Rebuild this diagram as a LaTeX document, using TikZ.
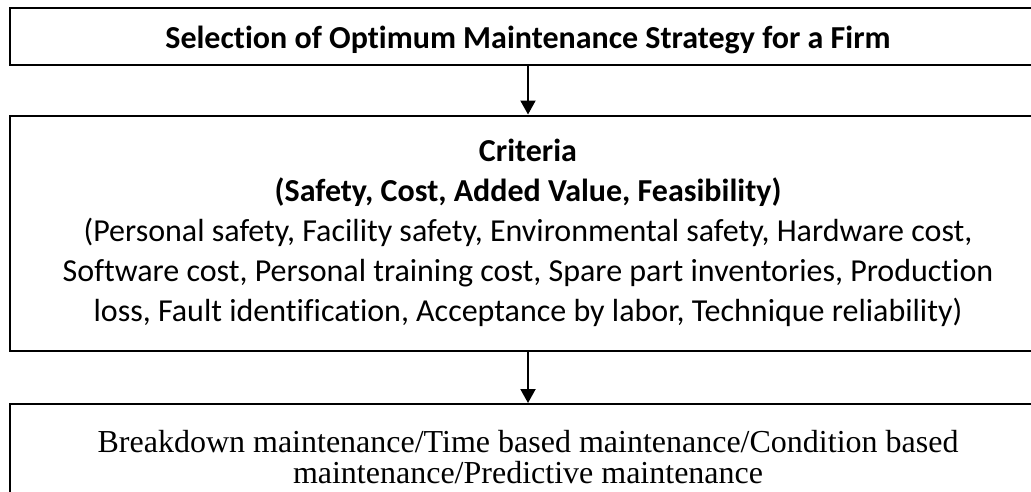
\documentclass[tikz,border=0pt]{standalone}
\usepackage{fontspec}
\setmainfont{Liberation Serif}
\newfontfamily\calibri[Ligatures=NoCommon]{Carlito}
\usetikzlibrary{arrows.meta}

\begin{document}
\begin{tikzpicture}[x=1pt,y=1pt,
    box/.style={draw=black,line width=2pt,minimum width=1036pt,inner sep=0pt,
                align=center,anchor=north west},
    sans/.style={font={\calibri\fontsize{32}{40}\selectfont}},
    arr/.style={-{Triangle[length=14pt,width=15pt]},line width=2pt}
  ]
    \useasboundingbox (0,0) rectangle (1031,-491);
    \clip (0,0) rectangle (1031,-491);
    \node[box,sans,text height=40.5pt,text depth=17pt] (goal) at (9,-6.5)
      {\bfseries Selection of Optimum Maintenance Strategy for a Firm};
    \node[box,sans,text height=205.5pt,text depth=30pt] (criteria) at (9,-114.5)
      {\textbf{Criteria}\\
       \textbf{(Safety, Cost, Added Value, Feasibility)}\\
       (Personal safety, Facility safety, Environmental safety, Hardware cost,\\
       Software cost, Personal training cost, Spare part inventories, Production\\
       loss, Fault identification, Acceptance by labor, Technique reliability)};
    \node[box,text height=79pt,text depth=20pt,font={\fontsize{32}{31}\selectfont}]
      (strategy) at (9,-403)
      {Breakdown maintenance/Time based maintenance/Condition based\\
       maintenance/Predictive maintenance};
    \draw[arr] (goal.south) -- (criteria.north);
    \draw[arr] (criteria.south) -- (strategy.north);
  \end{tikzpicture}
\end{document}
